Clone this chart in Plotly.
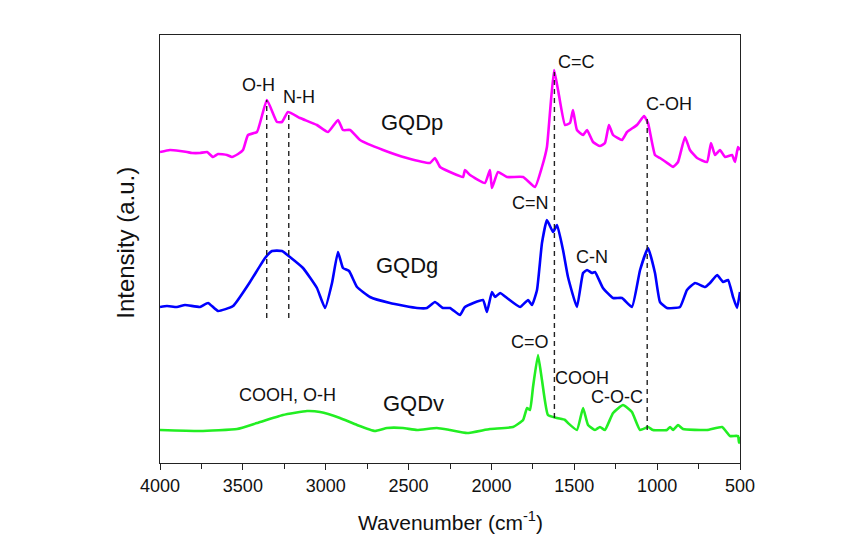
import plotly.graph_objects as go

# ---------------- data ----------------
wn_p = [4000,3940,3879,3837,3807,3759,3716,3680,3650,3596,3566,3529,3499,3469,3415,3355,3294,3264,3228,3155,
        3053,2986,2926,2896,2853,2793,2654,2510,2371,2341,2310,2250,2171,2160,2129,2039,2009,1997,1960,1906,
        1809,1737,1695,1665,1647,1622,1598,1556,1526,1508,1484,1447,1423,1387,1345,1315,1291,1266,1212,1182,
        1122,1079,1055,1013,983,922,904,874,832,802,759,699,675,651,621,590,548,530,512,500]
int_p = [311,313,312,311,310,310,311,306,309,308,306,309,313,328,331,363,341,341,351,345,
         338,331,343,333,333,323,313,305,300,305,296,291,286,293,288,280,293,275,291,286,
         286,276,296,316,350,393,373,338,340,353,333,328,333,321,317,320,338,328,323,331,
         338,347,340,308,305,298,296,301,326,313,305,301,320,308,313,306,308,301,316,313]

wn_g = [4000,3958,3898,3849,3759,3710,3650,3559,3457,3366,3324,3264,3216,3137,3053,3004,2962,2926,2896,2859,
        2811,2733,2612,2449,2389,2341,2292,2250,2190,2160,2051,2027,1997,1978,1948,1906,1827,1779,1755,1725,
        1695,1665,1628,1604,1568,1538,1484,1447,1423,1393,1375,1327,1266,1212,1152,1103,1055,1013,983,941,
        862,820,771,711,681,638,602,572,542,518,500]
int_g = [156,157,156,158,156,160,152,157,181,205,212,212,206,195,175,155,180,211,195,192,
         176,166,160,155,155,161,155,155,148,156,163,151,171,166,170,165,156,163,158,173,
         220,243,231,238,213,186,156,190,193,190,191,175,165,165,156,193,215,190,161,155,
         156,173,180,176,180,188,181,183,166,155,171]

wn_v = [4000,3759,3535,3415,3258,3113,3034,2914,2811,2703,2630,2534,2449,2329,2250,2147,2009,1870,1809,1785,
        1767,1749,1719,1695,1659,1604,1556,1538,1484,1447,1417,1375,1345,1315,1266,1206,1152,1103,1055,1025,
        941,922,904,874,844,699,608,560,512,506,500]
int_v = [33,32,34,40,48,52,51,45,38,32,35,35,33,35,33,30,34,36,43,55,
         53,76,108,83,48,45,43,40,33,55,38,33,36,33,50,58,51,33,36,33,
         33,36,33,38,34,33,36,27,27,20,26]

series_names = ["GQDp", "GQDg", "GQDv"]
series_colors = ["#ff00ff", "#0000ff", "#22ee22"]

# assignment guide lines: wavenumber, top, bottom
guide_wn = [3356, 3223, 1620, 1060]
guide_top = [363, 351, 391, 345]
guide_bottom = [145, 145, 45, 33]

# band labels: text, wavenumber, intensity
band_text = ["O-H", "N-H", "C=C", "C-OH", "C=N", "C-N", "C=O", "COOH", "C-O-C", "COOH, O-H"]
band_wn = [3403, 3161, 1484, 928, 1767, 1393, 1767, 1453, 1242, 3228]
band_int = [378, 366, 401, 359, 260, 206, 121, 85, 66, 68]

name_wn = [2479, 2509, 2473]
name_int = [341, 198, 60]

x_ticks = [4000, 3500, 3000, 2500, 2000, 1500, 1000, 500]

# ---------------- figure ----------------
FONT = "Liberation Sans, Arial, sans-serif"
fig = go.Figure()

for wn, it, nm, col in zip([wn_p, wn_g, wn_v], [int_p, int_g, int_v], series_names, series_colors):
    fig.add_trace(go.Scatter(x=wn, y=it, mode="lines", name=nm,
                             line=dict(color=col, width=2.6, shape="spline", smoothing=0.4),
                             showlegend=False, hoverinfo="skip"))

for w, t, b in zip(guide_wn, guide_top, guide_bottom):
    fig.add_trace(go.Scatter(x=[w, w], y=[b, t], mode="lines",
                             line=dict(color="#222222", width=1.4, dash="5px,4px"),
                             showlegend=False, hoverinfo="skip"))

for txt, w, i in zip(band_text, band_wn, band_int):
    fig.add_annotation(x=w, y=i, xref="x", yref="y", text=txt, showarrow=False,
                       font=dict(family=FONT, size=18, color="#111111"))

for txt, w, i in zip(series_names, name_wn, name_int):
    fig.add_annotation(x=w, y=i, xref="x", yref="y", text=txt, showarrow=False,
                       font=dict(family=FONT, size=22, color="#111111"))

fig.add_annotation(x=-0.060, y=0.515, xref="paper", yref="paper", text="Intensity (a.u.)",
                   textangle=-90, showarrow=False, xanchor="center", yanchor="middle",
                   font=dict(family=FONT, size=24, color="#111111"))
fig.add_annotation(x=0.5, y=-0.1355, xref="paper", yref="paper",
                   text="Wavenumber (cm<sup>-1</sup>)", showarrow=False,
                   xanchor="center", yanchor="middle",
                   font=dict(family=FONT, size=21, color="#111111"))

fig.update_layout(
    width=845, height=550,
    margin=dict(l=160, r=105, t=35, b=87),
    paper_bgcolor="white", plot_bgcolor="white",
    font=dict(family=FONT, color="#111111"),
)
fig.update_xaxes(range=[4000, 500], tickvals=x_ticks, ticktext=[str(v) for v in x_ticks],
                 ticks="outside", ticklen=6, tickwidth=1.2, tickcolor="#222222",
                 minor=dict(ticks="outside", ticklen=5, tickwidth=1.2, tickcolor="#222222", dtick=250,
                            tick0=500, showgrid=False),
                 showline=True, linecolor="#222222", linewidth=1.4, mirror=True,
                 showgrid=False, zeroline=False,
                 tickfont=dict(family=FONT, size=18, color="#111111"))
fig.update_yaxes(range=[0, 428], showticklabels=False, ticks="",
                 showline=True, linecolor="#222222", linewidth=1.4, mirror=True,
                 showgrid=False, zeroline=False)

fig.write_html("out.html")
